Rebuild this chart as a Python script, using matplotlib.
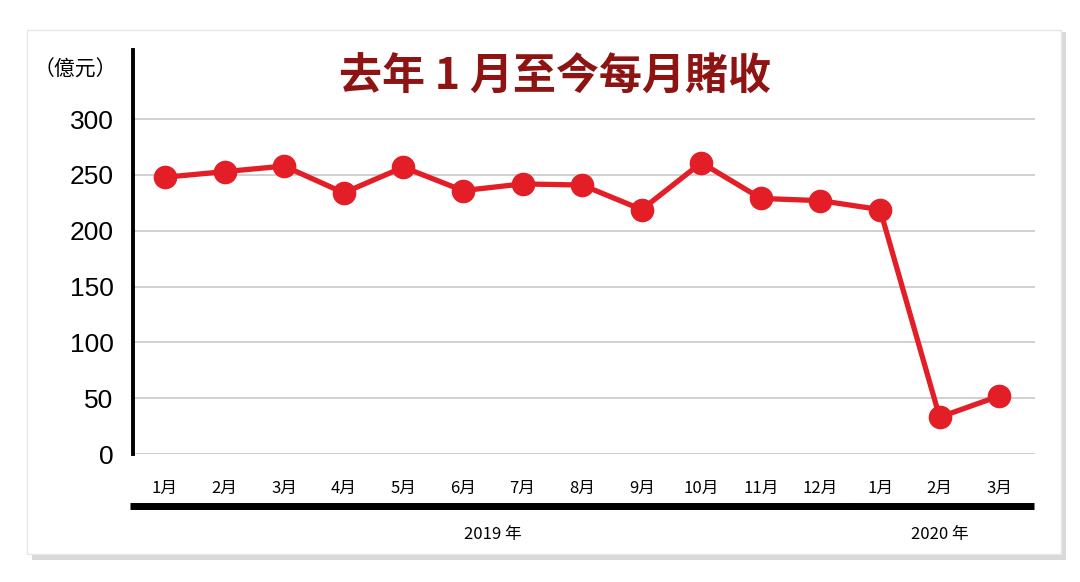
import matplotlib
matplotlib.use("Agg")
import matplotlib.pyplot as plt
import matplotlib.transforms as mtransforms
from matplotlib.patches import Rectangle

plt.rcParams["font.family"] = ["Noto Sans CJK TC", "DejaVu Sans"]

MONTHS = ["1月", "2月", "3月", "4月", "5月", "6月", "7月", "8月", "9月", "10月", "11月", "12月",
          "1月", "2月", "3月"]
REVENUE = [248, 253, 258, 234, 257, 236, 242, 241, 219, 261, 229, 227, 219, 33, 52]
YEARS = ["2019 年", "2020 年"]
YEAR_SPANS = [(0, 11), (12, 14)]
YTICKS = [0, 50, 100, 150, 200, 250, 300]

RED = "#e41e26"
TITLE_RED = "#8e1414"

W, H = 1080, 582
fig = plt.figure(figsize=(W / 100, H / 100), dpi=100, facecolor="white")

# card with soft shadow
fig.patches.append(Rectangle((32 / W, 1 - 560 / H), 1034 / W, 528 / H, transform=fig.transFigure,
                             facecolor="#d9d9d9", edgecolor="none", zorder=-2))
fig.patches.append(Rectangle((27 / W, 1 - 554 / H), 1034 / W, 524 / H, transform=fig.transFigure,
                             facecolor="white", edgecolor="#e6e6e6", zorder=-1))

ax = fig.add_axes([133 / W, 1 - 454 / H, (1035 - 133) / W, (454 - 50) / H])
ax.set_zorder(3)
ax.set_facecolor("none")
x = list(range(len(REVENUE)))
ax.plot(x, REVENUE, color=RED, linewidth=3.8, marker="o", markersize=16, zorder=5, clip_on=False)

ax.set_ylim(0, 362)
ax.set_xlim(-0.537, 14.6)
ax.set_yticks(YTICKS)
ax.set_yticklabels([str(t) for t in YTICKS], fontsize=19, family=["Liberation Sans", "DejaVu Sans"])
ax.tick_params(axis="y", length=0, pad=14)
ax.set_xticks([])
for t in YTICKS:
    ax.axhline(t, color="#c8c8c8", linewidth=1.2, zorder=1)
for s in ["top", "right", "bottom"]:
    ax.spines[s].set_visible(False)
ax.spines["left"].set_linewidth(2.8)
ax.spines["left"].set_color("black")

trans = mtransforms.blended_transform_factory(ax.transData, ax.transAxes)
for i, m in enumerate(MONTHS):
    ax.text(i, -0.085, m, transform=trans, ha="center", va="center", fontsize=12)
for (a, b), label in zip(YEAR_SPANS, YEARS):
    ax.plot([a - 0.58, b + 0.58], [-0.128, -0.128], transform=trans, color="black",
            linewidth=5, clip_on=False, solid_capstyle="butt")
    ax.text((a + b) / 2, -0.2, label, transform=trans, ha="center", va="center", fontsize=12)

fig.text(75 / W, 1 - 70 / H, "（億元）", ha="center", va="center", fontsize=15, zorder=4)
fig.text(555 / W, 1 - 77 / H, "去年 1 月至今每月賭收", ha="center", va="center",
         fontsize=31, fontweight="heavy", color=TITLE_RED, zorder=4)

fig.savefig("out.png", dpi=100)
